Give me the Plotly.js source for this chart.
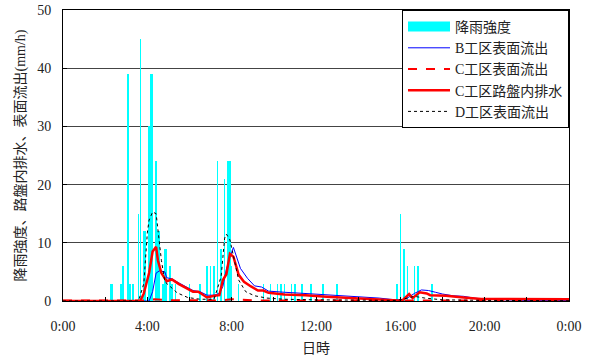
<!DOCTYPE html>
<html>
<head>
<meta charset="utf-8">
<script src="https://cdn.plot.ly/plotly-3.0.1.min.js"></script>
<style>html,body{margin:0;padding:0;background:#fff;}#chart{width:590px;height:360px;}</style>
</head>
<body>
<div id="chart"></div>
<script>
// Rainfall intensity (mm/h)
const rainTimes = ["2:15","2:20","2:45","2:50","3:05","3:10","3:20","3:35","3:40","3:50","3:55","4:05","4:10","4:15","4:25","4:30","4:35","4:45","4:50","4:55","5:05","5:10","5:20","6:00","6:30","6:50","7:00","7:10","7:20","7:30","7:40","7:50","7:55","8:00","8:20","9:30","9:50","10:10","10:20","10:30","10:50","11:00","11:20","11:45","12:20","13:00","15:50","16:00","16:10","16:20","16:40","16:50","17:30"];
const rainValues = [3,3,3,6,39,3,3,15,45,12,12,30,39,39,24,12,12,3,9,9,6,3,3,3,3,6,6,6,24,9,21,24,24,6,3,3,3,3,3,3,3,3,3,3,3,3,3,15,9,6,6,6,3];

// B工区表面流出
const bTimes = ["0:00","4:05","4:15","4:25","4:35","4:50","4:55","5:10","5:30","5:50","6:10","6:30","6:50","7:10","7:25","7:35","7:45","7:55","8:05","8:25","8:45","9:05","9:25","9:45","10:00","10:30","11:00","11:30","12:00","12:30","13:00","13:30","14:00","14:30","15:00","15:30","15:50","16:00","16:20","16:40","17:00","17:20","17:40","18:00","18:30","19:00","19:30","20:00","21:00","22:00","24:00"];
const bValues = [0,0,1.6,4.8,5.2,5.0,4.0,3.8,3.1,2.5,1.8,1.6,1.0,1.0,1.3,2.5,5.5,7.5,9.2,5.6,3.9,2.6,2.4,1.7,1.6,1.5,1.4,1.3,1.2,1.1,1.0,0.9,0.8,0.6,0.5,0.3,0.2,0.15,0.5,1.3,1.9,1.8,1.5,1.2,0.9,0.8,0.5,0.3,0.2,0.1,0.1];

// C工区表面流出
const cSurfTimes = ["0:00","3:50","4:20","5:00","7:30","8:00","9:00","16:00","17:00","18:00","24:00"];
const cSurfValues = [0.1,0.1,0.3,0.15,0.1,0.3,0.1,0.1,0.2,0.1,0.1];

// C工区路盤内排水
const cBaseTimes = ["0:00","3:40","3:50","4:05","4:15","4:25","4:30","4:40","4:55","5:10","5:30","5:50","6:10","6:25","6:35","6:50","7:10","7:25","7:35","7:45","7:55","8:05","8:20","8:35","8:55","9:15","9:30","9:45","10:30","11:30","12:30","13:30","14:30","15:30","15:55","16:05","16:25","16:35","16:55","17:15","17:25","18:10","19:00","19:50","21:00","22:30","24:00"];
const cBaseValues = [0,0,1.3,4.8,8.5,9.3,7.0,4.8,3.4,3.7,2.9,2.3,1.6,1.6,1.2,0.6,0.9,1.0,3.6,4.6,8.1,7.6,4.5,3.3,2.5,1.8,1.8,1.4,1.1,1.0,0.75,0.55,0.45,0.2,0.05,0.05,1.2,0.5,1.5,1.3,1.0,0.9,0.6,0.35,0.35,0.3,0.3];

// D工区表面流出
const dTimes = ["0:00","3:35","3:50","4:00","4:05","4:15","4:25","4:30","4:40","4:50","5:05","5:25","5:55","6:30","7:10","7:30","7:40","7:45","7:55","8:05","8:20","8:40","9:05","9:40","10:30","12:00","15:50","16:20","16:40","17:10","18:00","20:00","24:00"];
const dValues = [0,0,3,11.7,13.9,15.3,15.0,12.2,7.0,3.3,2.5,1.4,0.6,0.3,0.3,4.2,10.8,11.5,10.5,7.6,3.6,1.6,0.9,0.5,0.3,0.2,0.1,0.5,0.8,0.5,0.2,0.1,0.05];

const xTickVals = ["0:00","4:00","8:00","12:00","16:00","20:00","24:00"];
const xTickText = ["0:00","4:00","8:00","12:00","16:00","20:00","0:00"];

function toDate(s){
  const [h,m] = s.split(":").map(Number);
  const d = h >= 24 ? 2 : 1;
  const hh = h % 24;
  return "2000-01-0" + d + " " + String(hh).padStart(2,"0") + ":" + String(m).padStart(2,"0");
}

const FONT = "Liberation Serif, 'Noto Sans CJK JP', serif";

const traces = [
  {type:"bar", name:"降雨強度", x:rainTimes.map(toDate), y:rainValues,
   width:5*60*1000*0.9, marker:{color:"#00FFFF", line:{width:0}}, showlegend:false},
  {type:"scatter", mode:"lines", name:"降雨強度", x:[null], y:[null],
   line:{color:"#00FFFF", width:10}, hoverinfo:"skip"},
  {type:"scatter", mode:"lines", name:"B工区表面流出", x:bTimes.map(toDate), y:bValues,
   line:{color:"#0000FF", width:1}},
  {type:"scatter", mode:"lines", name:"C工区表面流出", x:cSurfTimes.map(toDate), y:cSurfValues,
   line:{color:"#FF0000", width:2, dash:"dash"}},
  {type:"scatter", mode:"lines", name:"C工区路盤内排水", x:cBaseTimes.map(toDate), y:cBaseValues,
   line:{color:"#FF0000", width:2.5}},
  {type:"scatter", mode:"lines", name:"D工区表面流出", x:dTimes.map(toDate), y:dValues,
   line:{color:"#000000", width:1, dash:"dot"}}
];

const layout = {
  width:590, height:360,
  margin:{l:63, r:21, t:10, b:59},
  paper_bgcolor:"#fff", plot_bgcolor:"#fff",
  font:{family:FONT, size:14, color:"#222"},
  bargap:0,
  showlegend:true,
  legend:{x:1, xanchor:"right", y:1, yanchor:"top", bgcolor:"#fff",
          bordercolor:"#000", borderwidth:1, font:{family:FONT, size:14, color:"#222"},
          tracegroupgap:0, traceorder:"normal", itemwidth:42},
  xaxis:{type:"date", range:[toDate("0:00"), toDate("24:00")],
         tickvals:xTickVals.map(toDate), ticktext:xTickText,
         ticks:"inside", ticklen:4, tickcolor:"#000",
         minor:{dtick:2*3600*1000, ticks:"inside", ticklen:4, tickcolor:"#000", showgrid:false},
         showgrid:false, zeroline:false, showline:true, linecolor:"#000", linewidth:1, mirror:true,
         ticklabelstandoff:12,
         title:{text:"日時", font:{family:FONT, size:14, color:"#222"}, standoff:10}},
  yaxis:{range:[0,50], dtick:10, ticks:"inside", ticklen:4, tickcolor:"#000",
         showgrid:true, gridcolor:"#444", gridwidth:1, zeroline:false,
         showline:true, linecolor:"#000", linewidth:1, mirror:true,
         ticklabelstandoff:8,
         title:{text:"降雨強度、路盤内排水、表面流出(mm/h)", font:{family:FONT, size:14, color:"#222"}, standoff:8}}
};

Plotly.newPlot("chart", traces, layout, {displayModeBar:false, staticPlot:true});
</script>
</body>
</html>
